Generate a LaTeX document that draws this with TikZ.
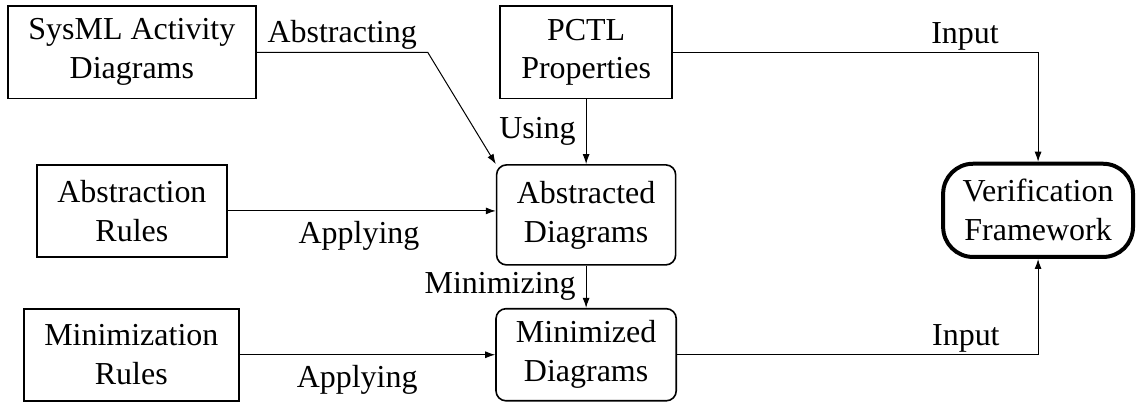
\documentclass[tikz,border=0pt]{standalone}
\usepackage{fontspec}
\setmainfont{Liberation Serif}
\usetikzlibrary{arrows.meta}

\begin{document}
\begin{tikzpicture}[
    font = \fontsize{16}{19.5}\selectfont,
    box/.style  = {draw, line width = 0.8pt, align = center, minimum height = 1.62cm},
    soft/.style = {box, rounded corners = 5pt},
    goal/.style = {draw, line width = 2pt, rounded corners = 15pt, align = center,
                   minimum width = 3.34cm, minimum height = 1.64cm},
    flow/.style = {line width = 0.5pt, -{Latex[length = 5pt, width = 3.5pt]}},
    lbl/.style  = {inner sep = 1pt}
  ]
  \useasboundingbox (0, 0) rectangle (20, 7.09);

  % sources and rules
  \node[box, minimum width = 4.36cm] (sysml)    at (2.32, 6.17)  {SysML Activity\\Diagrams};
  \node[box, minimum width = 3.34cm] (absrules) at (2.32, 3.38)  {Abstraction\\Rules};
  \node[box, minimum width = 3.78cm] (minrules) at (2.31, 0.85)  {Minimization\\Rules};
  \node[box, minimum width = 3.03cm] (pctl)     at (10.31, 6.17) {PCTL\\Properties};

  % intermediate diagrams
  \node[soft, minimum width = 3.15cm, minimum height = 1.76cm] (abstracted) at (10.31, 3.31) {Abstracted\\Diagrams};
  \node[soft, minimum width = 3.17cm] (minimized) at (10.31, 0.85) {Minimized\\Diagrams};

  \node[goal] (verif) at (18.26, 3.39) {Verification\\Framework};

  \draw[flow] (sysml.east) -- ++(3.01, 0) node[lbl, midway, above] {Abstracting} -- (abstracted.north west);
  \draw[flow] (pctl) -- node[lbl, left = 4pt] {Using} (abstracted);
  \draw[flow] (absrules.east) -- (absrules.east -| abstracted.west) node[lbl, pos = 0.49, below = 4pt] {Applying};
  \draw[flow] (abstracted) -- node[lbl, left = 4pt] {Minimizing} (minimized);
  \draw[flow] (minrules) -- node[lbl, pos = 0.46, below = 4pt] {Applying} (minimized);
  \draw[flow] (pctl.east) -| node[lbl, above, pos = 0.4] {Input} (verif.north);
  \draw[flow] (minimized.east) -| node[lbl, above, pos = 0.4] {Input} (verif.south);
\end{tikzpicture}
\end{document}
